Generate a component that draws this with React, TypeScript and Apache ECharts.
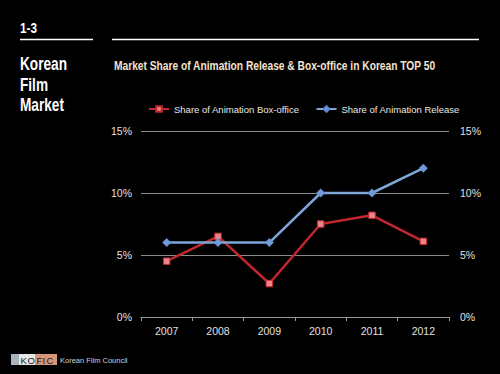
import React, { useEffect, useRef } from "react";
import * as echarts from "echarts";

const years = ["2007", "2008", "2009", "2010", "2011", "2012"];
const boxOfficeShare = [4.5, 6.5, 2.7, 7.5, 8.2, 6.1];
const releaseShare = [6, 6, 6, 10, 10, 12];
const yTicks = [0, 5, 10, 15];
const titleText = "Market Share of Animation Release & Box-office in Korean TOP 50";
const legendNames = ["Share of Animation Box-office", "Share of Animation Release"];
const logoLetters = ["K", "O", "F", "I", "C"];

const FONT = "'Liberation Sans', Arial, sans-serif";

function measure(text: string, font: string): number {
  const c = document.createElement("canvas");
  const ctx = c.getContext("2d")!;
  ctx.font = font;
  return ctx.measureText(text).width;
}

export default function App() {
  const ref = useRef<HTMLDivElement>(null);
  useEffect(() => {
    document.body.style.margin = "0";
    document.body.style.background = "#000";
    const chart = echarts.init(ref.current!, null, { renderer: "svg" });

    const titleW = measure(titleText, "bold 13.5px 'Liberation Sans'") || 460;
    const titleScale = 322 / titleW;
    const korW = measure("Korean", "bold 18px 'Liberation Sans'") || 58;
    const korScale = 47 / korW;
    const numW = measure("1-3", "bold 14px 'Liberation Sans'") || 20;
    const numScale = 17 / numW;

    const yAxisCommon = {
      type: "value" as const,
      min: yTicks[0],
      max: yTicks[yTicks.length - 1],
      interval: 5,
      axisLine: { show: false },
      axisTick: { show: false },
    };
    const labelStyle = { color: "#e0e0e0", fontSize: 10.5, fontFamily: FONT };
    const logoX = [20.5, 27.5, 36.5, 42.5, 46.5];
    const logoGraphics = logoLetters.map((ch, i) => ({
      type: "text",
      x: logoX[i],
      y: 355.5,
      style: { text: ch, fill: "#1a1a1a", fontSize: 9.5, fontFamily: FONT },
    }));
    chart.setOption({
      animation: false,
      backgroundColor: "#000",
      legend: {
        top: 99,
        left: 143,
        width: 340,
        orient: "horizontal",
        itemGap: 16,
        itemWidth: 20,
        itemHeight: 7,
        textStyle: { color: "#e8e8e8", fontSize: 9.5, fontFamily: FONT },
        data: legendNames,
      },
      grid: { left: 141, right: 51, top: 131, bottom: 57 },
      xAxis: {
        type: "category",
        data: years,
        boundaryGap: true,
        axisLine: { lineStyle: { color: "#9a9a9a", width: 1 } },
        axisTick: { show: true, length: 4, lineStyle: { color: "#9a9a9a" } },
        axisLabel: { ...labelStyle, margin: 8 },
      },
      yAxis: [
        {
          ...yAxisCommon,
          position: "left",
          axisLabel: { ...labelStyle, formatter: "{value}%", margin: 9 },
          splitLine: { show: true, lineStyle: { color: "#8a8a8a", width: 1 } },
        },
        {
          ...yAxisCommon,
          position: "right",
          axisLabel: { ...labelStyle, formatter: "{value}%", margin: 11 },
          splitLine: { show: false },
        },
      ],
      series: [
        {
          name: legendNames[0],
          type: "line",
          data: boxOfficeShare,
          symbol: "rect",
          symbolSize: 6.5,
          lineStyle: { color: "#c1272d", width: 2.5 },
          itemStyle: { color: "#e8868a", borderColor: "#c1272d", borderWidth: 1 },
        },
        {
          name: legendNames[1],
          type: "line",
          data: releaseShare,
          symbol: "diamond",
          symbolSize: 8.5,
          lineStyle: { color: "#7fa6d9", width: 2.5 },
          itemStyle: { color: "#6f9bd6", borderColor: "#5d8acb", borderWidth: 0.5 },
        },
      ],
      graphic: [
        {
          type: "text",
          x: 114,
          y: 58,
          scaleX: titleScale,
          style: { text: titleText, fill: "#f3e3d0", fontSize: 13.5, fontWeight: "bold", fontFamily: FONT },
        },
        {
          type: "text",
          x: 20,
          y: 21,
          scaleX: numScale,
          style: { text: "1-3", fill: "#ffffff", fontSize: 14, fontWeight: "bold", fontFamily: FONT },
        },
        { type: "line", shape: { x1: 20, y1: 39.5, x2: 93, y2: 39.5 }, style: { stroke: "#ffffff", lineWidth: 1.5 } },
        { type: "line", shape: { x1: 112, y1: 39.5, x2: 479, y2: 39.5 }, style: { stroke: "#ffffff", lineWidth: 1.5 } },
        {
          type: "text",
          x: 20,
          y: 54,
          scaleX: korScale,
          style: {
            text: "Korean\nFilm\nMarket",
            fill: "#ffffff",
            fontSize: 18,
            fontWeight: "bold",
            lineHeight: 20.5,
            fontFamily: FONT,
          },
        },
        { type: "rect", shape: { x: 11, y: 354, width: 8, height: 11 }, style: { fill: "#a9b3bd" } },
        { type: "rect", shape: { x: 19, y: 354, width: 16, height: 11 }, style: { fill: "#e6e6e6" } },
        { type: "rect", shape: { x: 35, y: 354, width: 22, height: 11 }, style: { fill: "#d9957a" } },
        ...logoGraphics,
        {
          type: "text",
          x: 60,
          y: 356,
          style: { text: "Korean Film Council", fill: "#d0d0d0", fontSize: 7.5, fontFamily: FONT },
        },
      ],
    });
    return () => chart.dispose();
  }, []);
  return <div ref={ref} style={{ width: 500, height: 374, position: "absolute", left: 0, top: 0 }} />;
}
